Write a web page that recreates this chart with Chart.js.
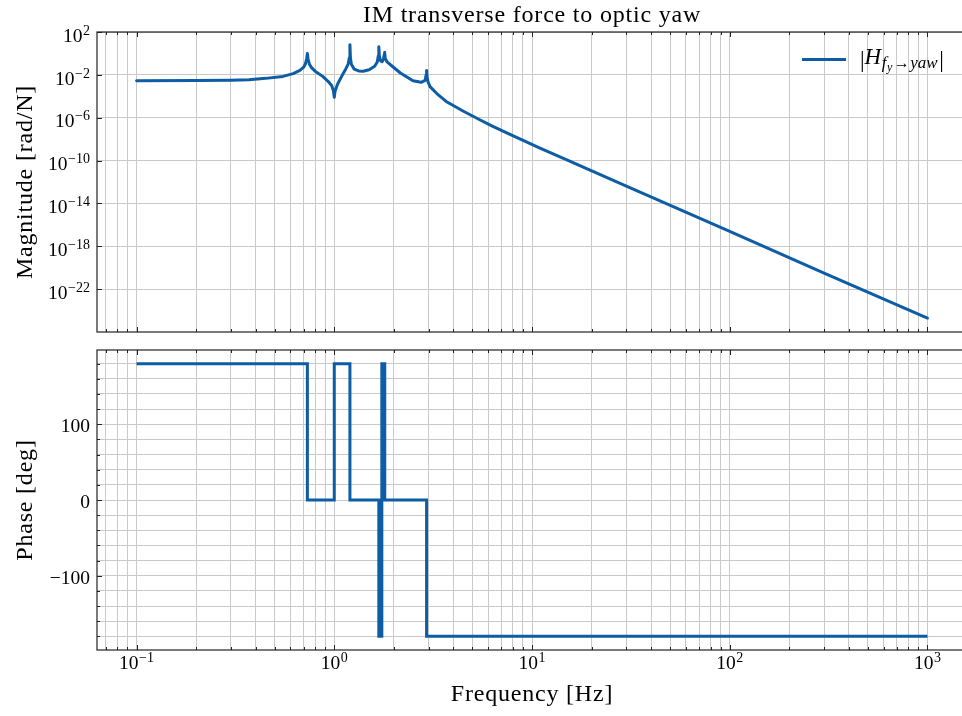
<!DOCTYPE html>
<html><head><meta charset="utf-8">
<script src="https://cdn.jsdelivr.net/npm/chart.js@4/dist/chart.umd.min.js"></script>
<style>
html,body{margin:0;padding:0;background:#fff;overflow:hidden;width:962px;height:716px;position:relative;}
#c1{position:absolute;left:0;top:0;}
#c2{position:absolute;left:0;top:340px;}
</style></head><body>
<canvas id="c1" width="970" height="345"></canvas>
<canvas id="c2" width="970" height="376"></canvas>
<script>
// ---------------- data ----------------
const titleText = 'IM transverse force to optic yaw';
const magLabel = 'Magnitude [rad/N]';
const phaseLabel = 'Phase [deg]';
const freqLabel = 'Frequency [Hz]';

const freqMag = [0.1,0.2,0.3,0.37,0.45,0.55,0.62,0.67,0.70,0.715,
  0.725,0.731,0.737,0.747,0.765,0.80,0.874,0.93,0.97,0.99,
  1.0,1.01,1.04,1.1,1.14,1.175,1.192,1.2,1.207,1.22,
  1.26,1.33,1.4,1.5,1.6,1.65,1.67,1.68,1.69,1.715,
  1.745,1.775,1.79,1.798,1.81,1.85,1.95,2.16,2.5,2.75,
  2.88,2.915,2.93,2.945,2.98,3.05,3.3,3.68,4.5,5.44,
  6.3,7.5,10.9,15,30,100,300,1000];
const magnitude = [2.8e-3,2.95e-3,3.2e-3,3.55e-3,4.7e-3,7.2e-3,1.3e-2,2.6e-2,5.2e-2,0.11,
  0.32,1.0,0.3,0.11,5.0e-2,2.2e-2,7.2e-3,2.5e-3,1.0e-3,3.2e-4,
  8e-5,3.2e-4,1.4e-3,1.0e-2,3.2e-2,0.1,0.4,6.5,0.4,0.1,
  3.5e-2,2.3e-2,2.2e-2,3.0e-2,6.3e-2,0.16,0.6,4.2,0.6,0.2,
  0.17,0.3,0.8,1.26,0.35,0.16,7.1e-2,1.5e-2,2.8e-3,2.0e-3,
  3.0e-3,1.0e-2,2.6e-2,6.3e-3,2.2e-3,8e-4,1.8e-4,3.3e-5,4.0e-6,6.5e-7,
  1.67e-7,3.6e-8,1.56e-9,1.14e-10,4.2e-13,2.5e-17,3.2e-21,2.0e-25];

const freqPhase = [0.1,0.731,1.0,1.2,1.68,1.74,1.80,2.93,1000];
const phaseDeg  = [180,0,180,0,-180,180,0,-180,-180];

const magTicks = [1e2,1e-2,1e-6,1e-10,1e-14,1e-18,1e-22];
const magTickExp = ['2','\u22122','\u22126','\u221210','\u221214','\u221218','\u221222'];
const freqTicks = [0.1,1,10,100,1000];
const freqTickExp = ['\u22121','0','1','2','3'];
const phaseTicks = [-100,0,100];
const phaseTickLabels = ['\u2212100','0','100'];
const legendLabel = ['|','H','f','y','\u2192','yaw','|'];

// ---------------- styling ----------------
const LINE = '#0C5DA5';
const GRID = '#c9c9c9';
const SPINE = '#222';
const SERIF = '"Liberation Serif", "DejaVu Serif", serif';
const X_MIN = Math.pow(10,-1.2), X_MAX = Math.pow(10,3.2);

const xGrid = [];
for (let k=-2;k<=3;k++) for (let m=1;m<=9;m++){ const v=m*Math.pow(10,k); if(v>=X_MIN && v<=X_MAX) xGrid.push(v); }
const phaseGrid = [];
for (let v=-180; v<=180; v+=20) phaseGrid.push(v);

function isDecade(v){ const l=Math.log10(v); return Math.abs(l-Math.round(l))<1e-9; }

function drawPow(ctx, x, baseY, exp, align){
  ctx.font = '19.5px '+SERIF;
  const w1 = ctx.measureText('10').width;
  ctx.font = '14px '+SERIF;
  const w2 = ctx.measureText(exp).width;
  const tot = w1+w2+0.5;
  let x0 = align==='right' ? x-tot : x-tot/2;
  ctx.textAlign='left'; ctx.textBaseline='alphabetic';
  ctx.font = '19.5px '+SERIF; ctx.fillText('10', x0, baseY);
  ctx.font = '14px '+SERIF; ctx.fillText(exp, x0+w1+0.5, baseY-7);
}

function frameAndTicks(ctx, ca, xs, ys, yTickVals, yMajor){
  ctx.save();
  ctx.strokeStyle = SPINE; ctx.lineWidth = 1;
  xGrid.forEach(v=>{
    const px = Math.round(xs.getPixelForValue(v))+0.5;
    const len = isDecade(v)?5:3;
    ctx.beginPath();
    ctx.moveTo(px, ca.bottom); ctx.lineTo(px, ca.bottom-len);
    ctx.moveTo(px, ca.top); ctx.lineTo(px, ca.top+len);
    ctx.stroke();
  });
  yTickVals.forEach(v=>{
    const py = Math.round(ys.getPixelForValue(v))+0.5;
    const len = yMajor(v)?5:3;
    ctx.beginPath();
    ctx.moveTo(ca.left, py); ctx.lineTo(ca.left+len, py);
    ctx.moveTo(ca.right, py); ctx.lineTo(ca.right-len, py);
    ctx.stroke();
  });
  ctx.lineWidth = 1.2;
  ctx.strokeRect(ca.left, ca.top, ca.right-ca.left, ca.bottom-ca.top);
  ctx.restore();
}

function rotatedLabel(ctx, text, x, y){
  ctx.save();
  ctx.translate(x,y); ctx.rotate(-Math.PI/2);
  ctx.font = '24px '+SERIF; ctx.fillStyle='#000';
  ctx.letterSpacing = '0.8px';
  ctx.textAlign='center'; ctx.textBaseline='middle';
  ctx.fillText(text,0,0);
  ctx.restore();
}

const topPlugin = {
  id:'topDecor',
  afterDatasetsDraw(chart){
    const ctx = chart.ctx, ca = chart.chartArea, xs = chart.scales.x, ys = chart.scales.y;
    frameAndTicks(ctx, ca, xs, ys, magTicks, ()=>true);
    ctx.save(); ctx.fillStyle='#000';
    magTicks.forEach((v,i)=>{
      const py = ys.getPixelForValue(v);
      drawPow(ctx, 90, py+9.7, magTickExp[i], 'right');
    });
    // title
    ctx.font='24px '+SERIF; ctx.letterSpacing='0.8px';
    ctx.textAlign='center'; ctx.textBaseline='alphabetic';
    ctx.fillText(titleText, (ca.left+ca.right)/2, 22);
    ctx.letterSpacing='0px';
    ctx.restore();
    rotatedLabel(ctx, magLabel, 26, (ca.top+ca.bottom)/2);
    // legend
    ctx.save();
    ctx.strokeStyle=LINE; ctx.lineWidth=3;
    ctx.beginPath(); ctx.moveTo(802,59.5); ctx.lineTo(846,59.5); ctx.stroke();
    ctx.fillStyle='#000'; ctx.textAlign='left'; ctx.textBaseline='alphabetic';
    let x = 860;
    const parts = [
      {t:legendLabel[0], f:'23px '+SERIF, dy:67},
      {t:legendLabel[1], f:'italic 23px '+SERIF, dy:64},
      {t:legendLabel[2], f:'italic 17px '+SERIF, dy:68, gap:0.5},
      {t:legendLabel[3], f:'italic 12px '+SERIF, dy:71, gap:0.5},
      {t:legendLabel[4], f:'16px '+SERIF, dy:68, gap:1.5},
      {t:legendLabel[5], f:'italic 17px '+SERIF, dy:68, gap:0.5},
      {t:legendLabel[6], f:'23px '+SERIF, dy:67, gap:1.5}
    ];
    parts.forEach(p=>{
      ctx.font=p.f; x += (p.gap||0);
      ctx.fillText(p.t, x, p.dy);
      x += ctx.measureText(p.t).width;
    });
    ctx.restore();
  }
};

const bottomPlugin = {
  id:'bottomDecor',
  afterDatasetsDraw(chart){
    const ctx = chart.ctx, ca = chart.chartArea, xs = chart.scales.x, ys = chart.scales.y;
    frameAndTicks(ctx, ca, xs, ys, phaseGrid, v=>v%100===0);
    ctx.save(); ctx.fillStyle='#000';
    ctx.font='19.5px '+SERIF; ctx.textAlign='right'; ctx.textBaseline='alphabetic';
    phaseTicks.forEach((v,i)=>{
      const py = ys.getPixelForValue(v);
      ctx.fillText(phaseTickLabels[i], 90, py+8);
    });
    freqTicks.forEach((v,i)=>{
      const px = xs.getPixelForValue(v);
      drawPow(ctx, px, ca.bottom+19, freqTickExp[i], 'center');
    });
    ctx.font='24px '+SERIF; ctx.letterSpacing='0.8px';
    ctx.textAlign='center'; ctx.textBaseline='alphabetic';
    ctx.fillText(freqLabel, (ca.left+ca.right)/2, ca.bottom+51);
    ctx.letterSpacing='0px';
    ctx.restore();
    rotatedLabel(ctx, phaseLabel, 26, (ca.top+ca.bottom)/2);
  }
};

function xScale(h){
  return {
    type:'logarithmic', min:X_MIN, max:X_MAX,
    afterBuildTicks: s=>{ s.ticks = xGrid.map(v=>({value:v})); },
    afterFit: s=>{ s.height = h; },
    ticks:{display:false},
    grid:{color:GRID, lineWidth:1, drawTicks:false},
    border:{display:false}
  };
}

const common = {
  responsive:false, animation:false, events:[],
  plugins:{legend:{display:false}, tooltip:{enabled:false}, title:{display:false}}
};

new Chart(document.getElementById('c1'), {
  type:'line',
  data:{datasets:[{
    data: freqMag.map((f,i)=>({x:f, y:magnitude[i]})),
    borderColor:LINE, borderWidth:3, pointRadius:0, fill:false, tension:0,
    borderJoinStyle:'round', borderCapStyle:'round'
  }]},
  options:Object.assign({}, common, {
    layout:{padding:{top:32, left:0, right:3, bottom:0}},
    scales:{
      x: xScale(13),
      y:{
        type:'logarithmic', min:1.3e-26, max:1e2,
        afterBuildTicks: s=>{ s.ticks = magTicks.map(v=>({value:v})); },
        afterFit: s=>{ s.width = 97; },
        ticks:{display:false},
        grid:{color:GRID, lineWidth:1, drawTicks:false},
        border:{display:false}
      }
    }
  }),
  plugins:[topPlugin]
});

new Chart(document.getElementById('c2'), {
  type:'line',
  data:{datasets:[{
    data: freqPhase.map((f,i)=>({x:f, y:phaseDeg[i]})),
    stepped:'before',
    borderColor:LINE, borderWidth:3, pointRadius:0, fill:false,
    borderJoinStyle:'miter', borderCapStyle:'butt'
  }]},
  options:Object.assign({}, common, {
    layout:{padding:{top:10, left:0, right:3, bottom:0}},
    scales:{
      x: xScale(66),
      y:{
        type:'linear', min:-198, max:198,
        afterBuildTicks: s=>{ s.ticks = phaseGrid.map(v=>({value:v})); },
        afterFit: s=>{ s.width = 97; },
        ticks:{display:false},
        grid:{color:GRID, lineWidth:1, drawTicks:false},
        border:{display:false}
      }
    }
  }),
  plugins:[bottomPlugin]
});
</script>
</body></html>
